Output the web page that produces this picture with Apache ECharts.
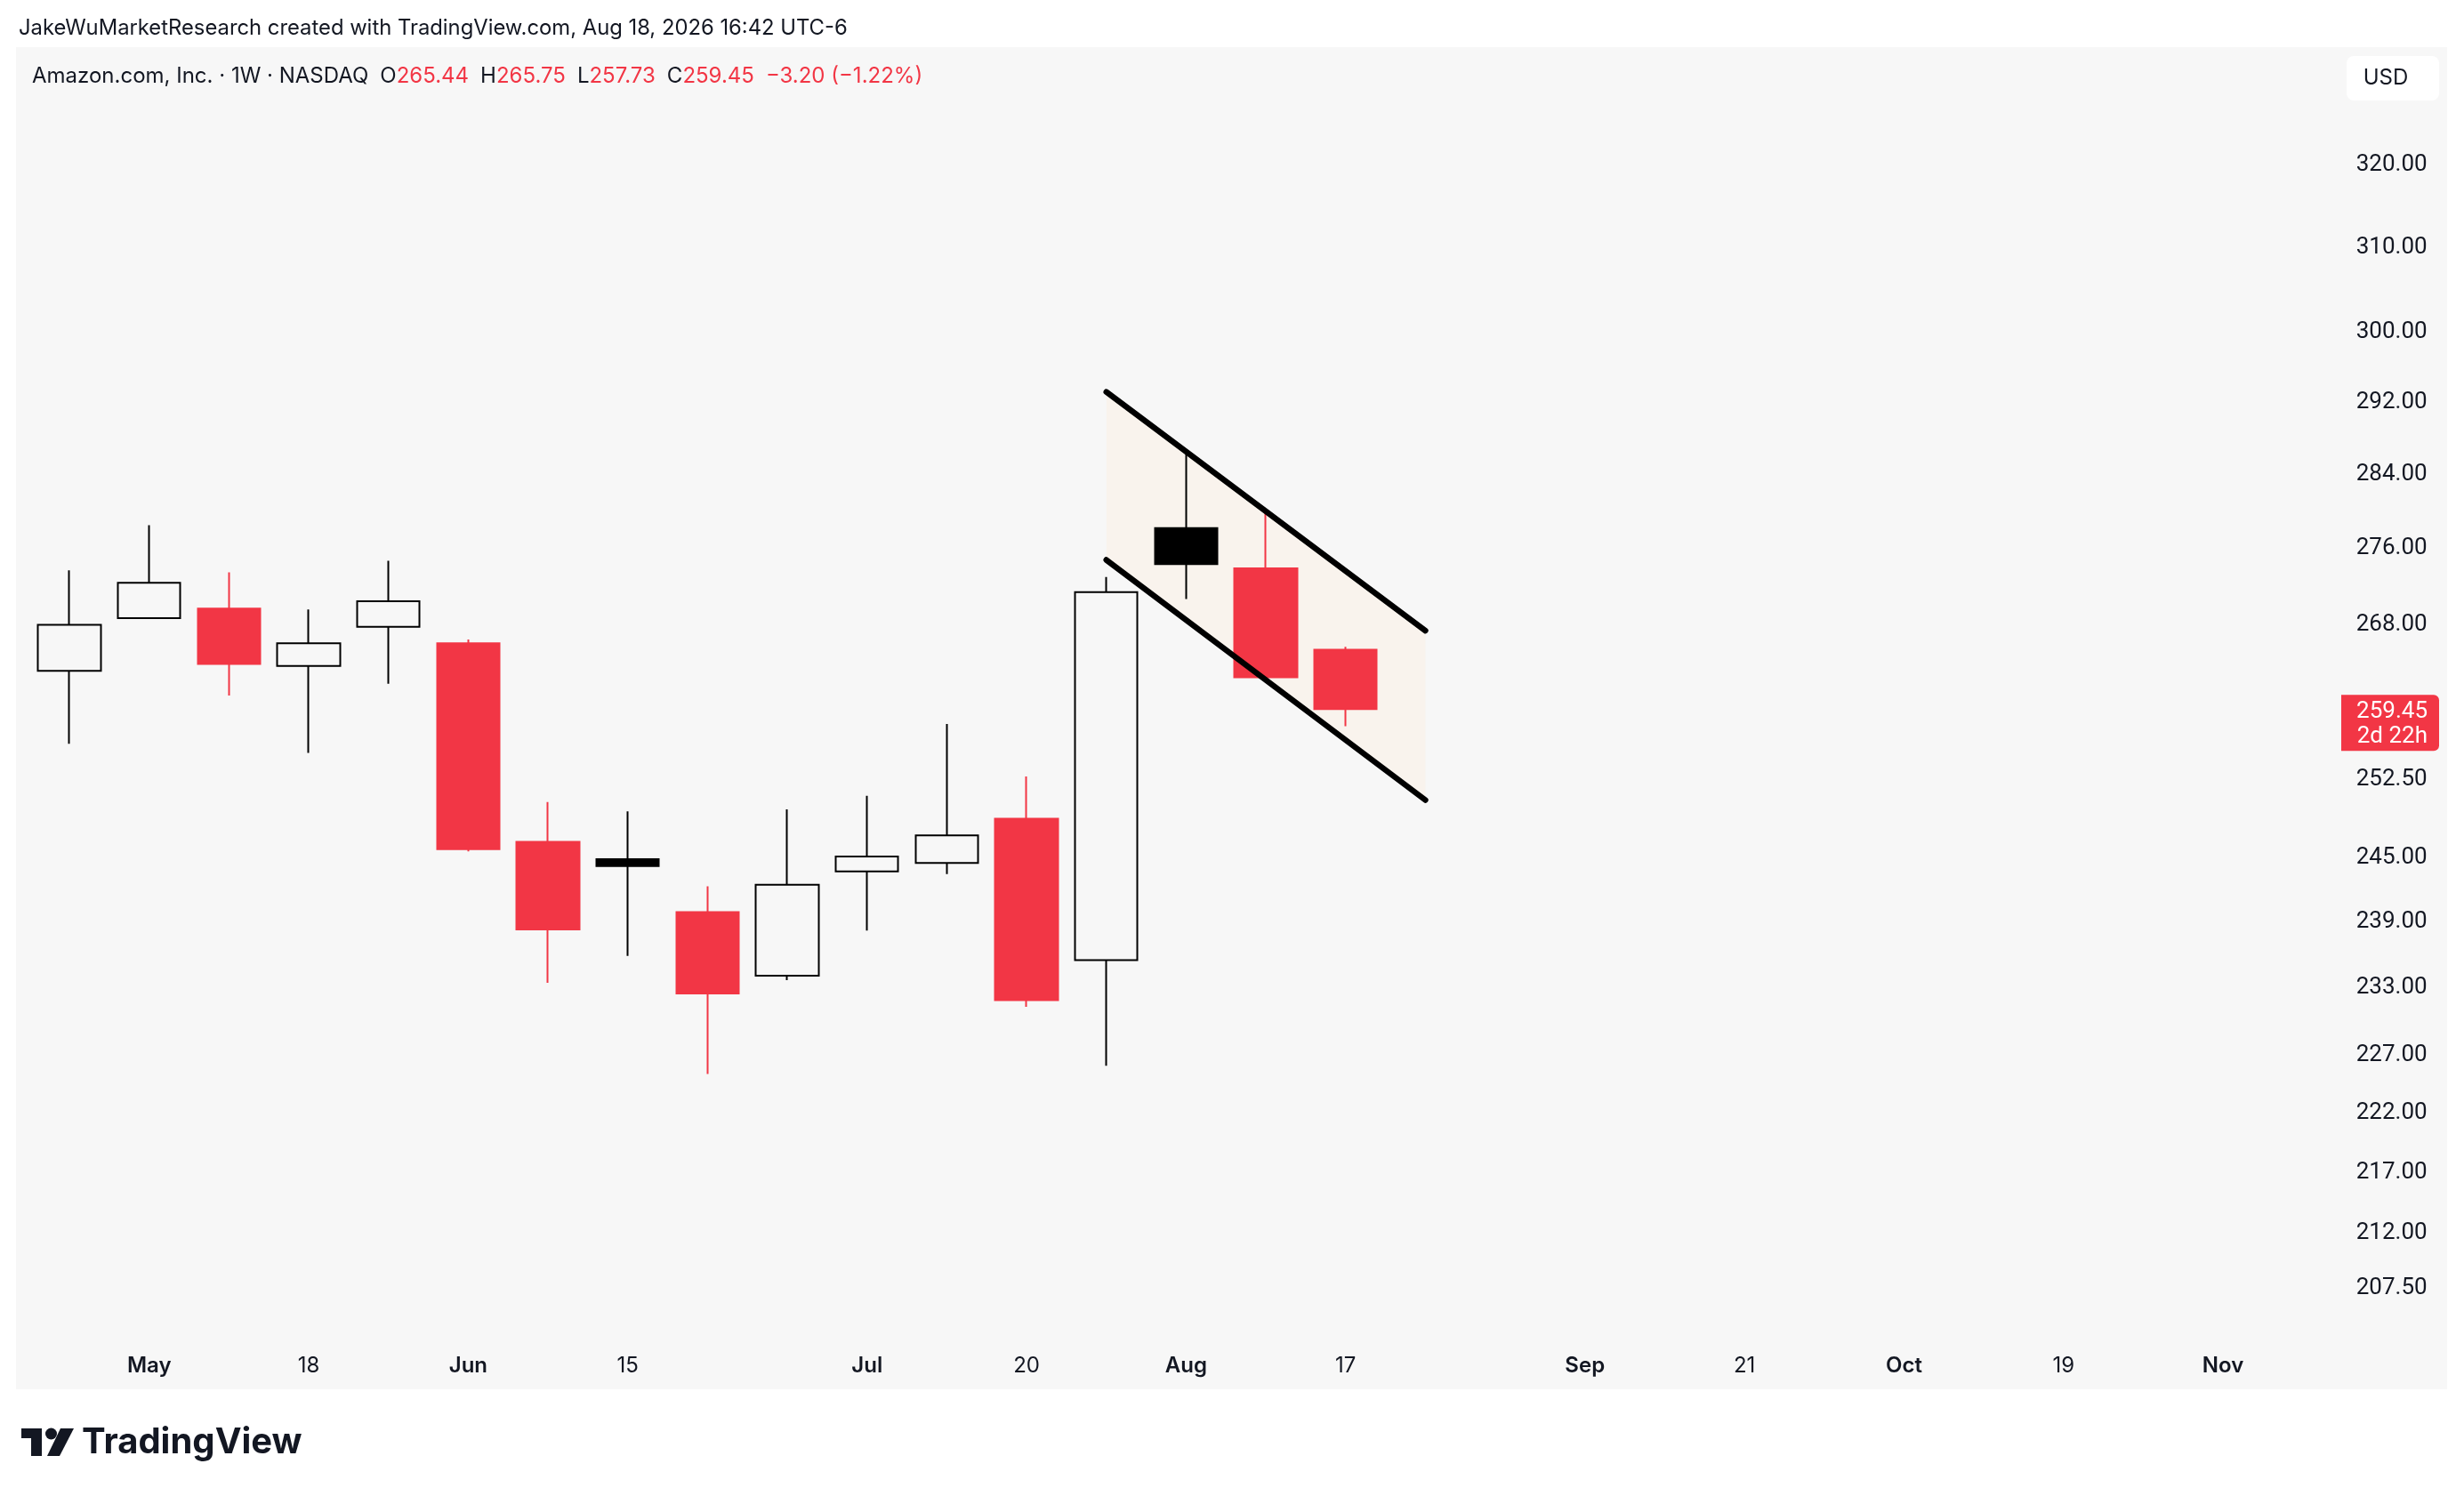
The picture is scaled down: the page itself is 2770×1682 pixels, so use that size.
<!DOCTYPE html>
<html>
<head>
<meta charset="utf-8">
<script src="https://cdn.jsdelivr.net/npm/echarts@6/dist/echarts.min.js"></script>
<style>
html,body{margin:0;padding:0;background:#ffffff;}
#c{width:2770px;height:1682px;}
</style>
</head>
<body>
<div id="c"></div>
<script>
// ---- data ----
const weeks = ['2026-04-27','2026-05-04','2026-05-11','2026-05-18','2026-05-25','2026-06-01','2026-06-08',
  '2026-06-15','2026-06-22','2026-06-29','2026-07-06','2026-07-13','2026-07-20','2026-07-27','2026-08-03',
  '2026-08-10','2026-08-17','2026-08-24','2026-08-31','2026-09-07','2026-09-14','2026-09-21','2026-09-28',
  '2026-10-05','2026-10-12','2026-10-19','2026-10-26','2026-11-02','2026-11-09'];
const opens  = [263.3, 268.7, 269.7, 263.8, 267.8, 266.1, 246.5, 244.85, 239.9, 234.1, 243.7, 244.5, 248.7, 235.5, 278.2, 273.9, 265.44];
const closes = [268.0, 272.4, 264.0, 266.1, 270.45, 245.8, 238.3, 244.2, 232.5, 242.45, 245.1, 247.1, 231.9, 271.4, 274.35, 262.65, 259.45];
const lows   = [256.0, 268.7, 260.8, 255.1, 262.0, 245.6, 233.45, 235.9, 225.4, 233.7, 238.2, 243.45, 231.3, 226.1, 270.7, 262.4, 257.73];
const highs  = [273.7, 278.5, 273.5, 269.6, 274.7, 266.5, 250.3, 249.4, 242.3, 249.6, 250.9, 257.95, 252.8, 273.0, 286.2, 279.9, 265.75];
const yTicks = [320, 310, 300, 292, 284, 276, 268, 252.5, 245, 239, 233, 227, 222, 217, 212, 207.5];
const xTickDates = ['2026-05-04','2026-05-18','2026-06-01','2026-06-15','2026-07-06','2026-07-20','2026-08-03',
  '2026-08-17','2026-09-07','2026-09-21','2026-10-05','2026-10-19','2026-11-02'];
const xTickTexts = ['May','18','Jun','15','Jul','20','Aug','17','Sep','21','Oct','19','Nov'];
const channelUpper = [['2026-07-27', 293.2], ['2026-08-24', 267.4]];
const channelLower = [['2026-07-27', 274.8], ['2026-08-24', 250.5]];
const lastPrice = 259.45;
const lastTimer = '2d 22h';

// ---- styles ----
const RED = '#f23645', BLACK = '#000000', TEXT = '#131722', FONT = 'Inter', NUMFONT = 'Roboto';
const idx = d => weeks.indexOf(d);

const candleData = opens.map((o, i) => {
  const c = closes[i];
  const prev = i > 0 ? closes[i - 1] : o;
  const col = c >= prev ? BLACK : RED;
  const fill = c > o ? 'rgba(0,0,0,0)' : col;
  return { value: [o, c, lows[i], highs[i]],
    itemStyle: { color: fill, color0: fill, borderColor: col, borderColor0: col } };
});

const chart = echarts.init(document.getElementById('c'), null, { renderer: 'canvas' });

const HF = '400 24px ' + FONT;
const staticGraphics = [
  { id: 'bg', type: 'rect', z: -100, shape: { x: 18, y: 53, width: 2733, height: 1509 }, style: { fill: '#f7f7f7' }, silent: true },
  { id: 'title', type: 'text', x: 21, y: 32, style: { text: 'JakeWuMarketResearch created with TradingView.com, Aug 18, 2026 16:42 UTC-6',
      fill: TEXT, font: '400 23.8px ' + FONT, verticalAlign: 'middle' } },
  { id: 'legend', type: 'text', x: 36, y: 86, style: {
      text: 'Amazon.com, Inc. · 1W · NASDAQ{g| }O{r|265.44}{g| }H{r|265.75}{g| }L{r|257.73}{g| }C{r|259.45}{g| }{r|−3.20 (−1.22%)}',
      fill: TEXT, font: HF, verticalAlign: 'middle',
      rich: { r: { fill: RED, font: HF }, g: { width: 13, font: HF } } } },
  { id: 'usdBox', type: 'rect', shape: { x: 2638, y: 63, width: 104, height: 50, r: 8 }, style: { fill: '#ffffff' } },
  { id: 'usdText', type: 'text', x: 2682, y: 88, style: { text: 'USD', fill: TEXT, font: '400 24px ' + FONT, align: 'center', verticalAlign: 'middle' } },
  // TradingView logo
  { id: 'logoBar', type: 'rect', shape: { x: 24, y: 1606, width: 23, height: 11 }, style: { fill: TEXT } },
  { id: 'logoStem', type: 'rect', shape: { x: 35, y: 1606, width: 12, height: 31 }, style: { fill: TEXT } },
  { id: 'logoDot', type: 'circle', shape: { cx: 57.5, cy: 1612, r: 6.5 }, style: { fill: TEXT } },
  { id: 'logoSlash', type: 'polygon', shape: { points: [[68, 1606], [83, 1606], [67, 1637], [53, 1637]] }, style: { fill: TEXT } },
  { id: 'logoText', type: 'text', x: 92, y: 1622, style: { text: 'TradingView', fill: TEXT, font: '700 40px ' + FONT, verticalAlign: 'middle' } }
];

const option = {
  backgroundColor: '#ffffff',
  animation: false,
  grid: { left: 33.2, right: 136.4, top: 53, bottom: 177, containLabel: false },
  xAxis: {
    type: 'category', data: weeks, boundaryGap: true,
    axisLine: { show: false }, axisTick: { show: false }, splitLine: { show: false },
    axisLabel: {
      interval: (i, v) => xTickDates.indexOf(v) >= 0,
      formatter: v => {
        const t = xTickTexts[xTickDates.indexOf(v)];
        return /^[A-Za-z]/.test(t) ? '{m|' + t + '}' : '{d|' + t + '}';
      },
      margin: 31, verticalAlign: 'middle',
      rich: {
        m: { fontFamily: FONT, fontSize: 24, fontWeight: 600, color: TEXT },
        d: { fontFamily: FONT, fontSize: 24, fontWeight: 400, color: TEXT }
      }
    }
  },
  yAxis: {
    type: 'log', logBase: 10, min: 203.53, max: 334.88, position: 'right',
    axisLine: { show: false }, axisTick: { show: false }, splitLine: { show: false },
    axisLabel: {
      customValues: yTicks,
      formatter: v => Number(v).toFixed(2),
      align: 'right', margin: 95, padding: [7, 0, 0, 0],
      fontFamily: NUMFONT, fontSize: 26, color: TEXT
    }
  },
  series: [
    {
      type: 'custom', z: 1, silent: true, clip: false,
      data: [[idx(channelUpper[0][0]), channelUpper[0][1]]],
      renderItem: (params, api) => {
        const pts = [channelUpper[0], channelUpper[1], channelLower[1], channelLower[0]]
          .map(p => api.coord([idx(p[0]), p[1]]));
        return { type: 'polygon', shape: { points: pts }, style: { fill: '#f9f3ed' } };
      }
    },
    {
      type: 'candlestick', z: 3, barWidth: 71, silent: true,
      data: candleData,
      itemStyle: { borderWidth: 2 }
    },
    {
      type: 'line', z: 4, silent: true, symbol: 'none',
      data: channelUpper.map(p => [idx(p[0]), p[1]]),
      lineStyle: { color: BLACK, width: 6.5, cap: 'round' }
    },
    {
      type: 'line', z: 4, silent: true, symbol: 'none',
      data: channelLower.map(p => [idx(p[0]), p[1]]),
      lineStyle: { color: BLACK, width: 6.5, cap: 'round' }
    }
  ],
  graphic: { elements: staticGraphics }
};

chart.setOption(option);

// last price tag on the price scale, placed through the axis scale
const py = chart.convertToPixel({ yAxisIndex: 0 }, lastPrice);
chart.setOption({
  graphic: { elements: [
    { id: 'priceBox', type: 'rect', shape: { x: 2632, y: py - 16, width: 110, height: 63, r: [0, 6, 6, 0] }, style: { fill: RED } },
    { id: 'priceText', type: 'text', x: 2729, y: py + 3, style: { text: lastPrice.toFixed(2), fill: '#ffffff', font: '400 26px ' + NUMFONT, align: 'right', verticalAlign: 'middle' } },
    { id: 'timerText', type: 'text', x: 2729, y: py + 31, style: { text: lastTimer, fill: '#ffffff', font: '400 26px ' + NUMFONT, align: 'right', verticalAlign: 'middle' } }
  ] }
});
</script>
</body>
</html>
